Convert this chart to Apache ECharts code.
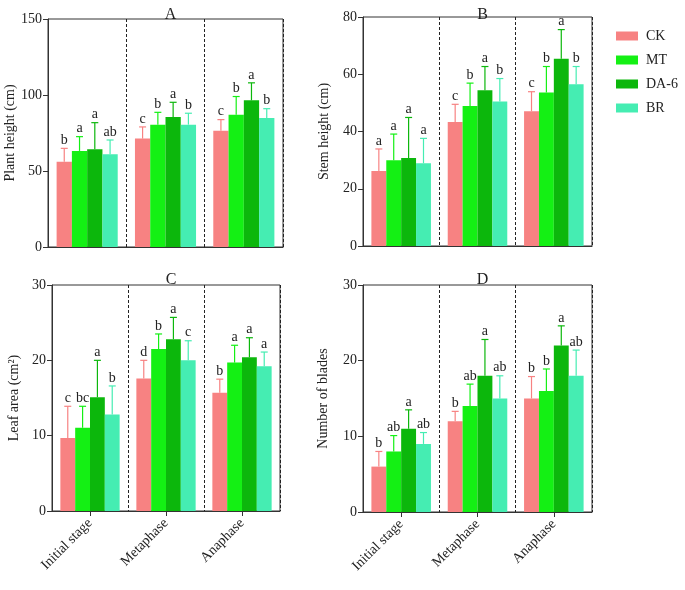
<!DOCTYPE html>
<html>
<head>
<meta charset="utf-8">
<script src="https://cdn.jsdelivr.net/npm/echarts@6/dist/echarts.min.js"></script>
<style>
  html, body { margin: 0; padding: 0; background: #fff; }
  #chart { width: 685px; height: 590px; }
</style>
</head>
<body>
<div id="chart"></div>
<script>
// stages and treatments
var stages = ['Initial stage', 'Metaphase', 'Anaphase'];
var treatments = ['CK', 'MT', 'DA-6', 'BR'];
var colors = ['#f78282', '#14f014', '#0cb70c', '#45edb2'];

// A - plant height (cm), rows = CK, MT, DA-6, BR
var plantMean = [[56.1, 71.3, 76.5], [63.2, 80.5, 87.0], [64.3, 85.5, 96.5], [61.0, 80.5, 84.9]];
var plantSd = [[8.8, 7.7, 7.3], [9.4, 8.1, 12.0], [17.5, 9.7, 11.5], [9.4, 7.5, 6.1]];
var plantLetters = [['b', 'c', 'c'], ['a', 'b', 'b'], ['a', 'a', 'a'], ['ab', 'b', 'b']];

// B - stem height (cm)
var stemMean = [[26.2, 43.3, 47.1], [30.0, 48.9, 53.6], [30.7, 54.4, 65.4], [28.9, 50.5, 56.5]];
var stemSd = [[7.7, 6.2, 6.8], [9.1, 8.0, 9.1], [14.2, 8.3, 10.2], [8.7, 8.0, 6.2]];
var stemLetters = [['a', 'c', 'c'], ['a', 'b', 'b'], ['a', 'a', 'a'], ['a', 'b', 'b']];

// C - leaf area (cm2)
var leafMean = [[9.7, 17.6, 15.7], [11.05, 21.5, 19.7], [15.1, 22.8, 20.4], [12.8, 20.0, 19.2]];
var leafSd = [[4.2, 2.4, 1.8], [2.85, 2.0, 2.3], [4.9, 2.9, 2.6], [3.8, 2.6, 1.9]];
var leafLetters = [['c', 'd', 'b'], ['bc', 'b', 'a'], ['a', 'a', 'a'], ['b', 'c', 'a']];

// D - number of blades
var bladeMean = [[6, 12, 15], [8, 14, 16], [11, 18, 22], [9, 15, 18]];
var bladeSd = [[2.0, 1.3, 2.9], [2.1, 2.9, 2.9], [2.5, 4.8, 2.6], [1.5, 3.0, 3.4]];
var bladeLetters = [['b', 'b', 'b'], ['ab', 'ab', 'b'], ['a', 'a', 'a'], ['ab', 'ab', 'ab']];

var panelMeans = [plantMean, stemMean, leafMean, bladeMean];
var panelSds = [plantSd, stemSd, leafSd, bladeSd];
var panelLetters = [plantLetters, stemLetters, leafLetters, bladeLetters];
var panelTitles = ['A', 'B', 'C', 'D'];
var panelNames = ['Plant height (cm)', 'Stem height (cm)', 'Leaf area (cm\u00b2)', 'Number of blades'];
var panelMax = [150, 80, 30, 30];
var panelStep = [50, 20, 10, 10];

var font = '"Liberation Serif", "Times New Roman", serif';
var ink = '#222';

var grids = [
    {left: 48, top: 19, width: 235, height: 228},
    {left: 363, top: 17, width: 229, height: 229},
    {left: 52, top: 285, width: 228, height: 226},
    {left: 363, top: 285, width: 229, height: 227}
];
var nameGaps = [31, 32, 31, 33];

var myChart = echarts.init(document.getElementById('chart'));

var xAxes = [], yAxes = [], series = [], titles = [];

grids.forEach(function (g, p) {
    g.show = true;
    g.borderColor = '#333';
    g.borderWidth = 1;
    g.containLabel = false;

    var bottomRow = p >= 2;
    xAxes.push({
        type: 'category',
        gridIndex: p,
        data: stages,
        axisLine: {lineStyle: {color: '#333'}},
        axisTick: {show: bottomRow, alignWithLabel: true, length: 5, lineStyle: {color: '#333'}},
        axisLabel: {
            show: bottomRow,
            rotate: 45,
            margin: 10,
            fontFamily: font,
            fontSize: 14,
            color: ink
        },
        splitLine: {show: true, lineStyle: {type: [3, 2], color: '#222', width: 1}}
    });
    yAxes.push({
        type: 'value',
        gridIndex: p,
        min: 0,
        max: panelMax[p],
        interval: panelStep[p],
        name: panelNames[p],
        nameLocation: 'middle',
        nameGap: nameGaps[p],
        nameTextStyle: {fontFamily: font, fontSize: 14, color: ink},
        axisLine: {show: true, lineStyle: {color: '#333'}},
        axisTick: {show: true, length: 5, lineStyle: {color: '#333'}},
        axisLabel: {fontFamily: font, fontSize: 14, color: ink, margin: 6},
        splitLine: {show: false}
    });
    titles.push({
        text: panelTitles[p],
        left: g.left + g.width / 2,
        top: p < 2 ? 2 : 267,
        textAlign: 'center',
        textStyle: {fontFamily: font, fontSize: 16, fontWeight: 'normal', color: ink}
    });

    treatments.forEach(function (name, t) {
        series.push({
            name: name,
            type: 'bar',
            xAxisIndex: p,
            yAxisIndex: p,
            barCategoryGap: '22%',
            barGap: '0%',
            itemStyle: {color: colors[t]},
            data: panelMeans[p][t]
        });

        var errData = panelMeans[p][t].map(function (m, i) {
            return [i, m, m + panelSds[p][t][i]];
        });
        series.push({
            type: 'custom',
            xAxisIndex: p,
            yAxisIndex: p,
            z: 5,
            silent: true,
            data: errData,
            renderItem: function (params, api) {
                var i = api.value(0);
                var base = api.coord([i, api.value(1)]);
                var top = api.coord([i, api.value(2)]);
                var band = api.size([1, 0])[0];
                var barW = band * 0.78 / 4;
                var x = base[0] - band * 0.39 + barW * (t + 0.5);
                var style = {stroke: colors[t], lineWidth: 1.2};
                return {
                    type: 'group',
                    children: [
                        {type: 'line', shape: {x1: x, y1: base[1], x2: x, y2: top[1]}, style: style},
                        {type: 'line', shape: {x1: x - 3.5, y1: top[1], x2: x + 3.5, y2: top[1]}, style: style},
                        {
                            type: 'text',
                            style: {
                                text: panelLetters[p][t][params.dataIndex],
                                x: x,
                                y: top[1] - 1,
                                align: 'center',
                                verticalAlign: 'bottom',
                                font: '14px ' + font,
                                fill: ink
                            }
                        }
                    ]
                };
            }
        });
    });
});

var option = {
    animation: false,
    title: titles,
    legend: {
        orient: 'vertical',
        left: 611,
        top: 24,
        itemWidth: 22,
        itemHeight: 9,
        itemGap: 10,
        icon: 'rect',
        selectedMode: false,
        data: treatments,
        textStyle: {fontFamily: font, fontSize: 14, color: ink, padding: [0, 0, 0, 3]}
    },
    grid: grids,
    xAxis: xAxes,
    yAxis: yAxes,
    series: series
};

myChart.setOption(option);
</script>
</body>
</html>
